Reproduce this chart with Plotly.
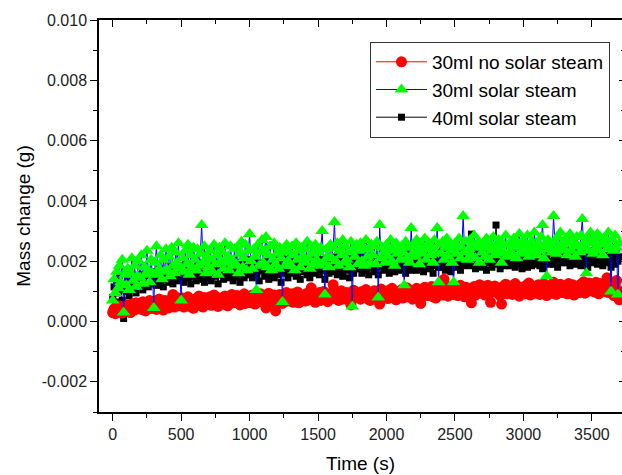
import plotly.graph_objects as go

# Sample times (s), one reading every 10 s from 0 to 3700 s
time_s = list(range(0, 3701, 10))

# Mass change, in milligrams (converted to grams below)
red_30ml_no_solar_mg = [
    0.30,0.42,0.26,0.48,0.35,0.52,0.38,0.28,0.45,0.40,
    0.36,0.55,0.41,0.30,0.58,0.47,0.38,0.62,0.44,0.52,
    0.58,0.40,0.66,0.47,0.35,0.60,0.52,0.70,0.43,0.55,
    0.48,0.68,0.40,0.62,0.75,0.50,0.58,0.38,0.70,0.55,
    0.65,0.45,0.72,0.55,0.90,0.48,0.66,0.80,0.52,0.60,
    0.55,0.78,0.48,0.68,0.60,0.82,0.50,0.72,0.64,0.44,
    0.75,0.52,0.70,0.85,0.58,0.66,0.48,0.80,0.62,0.72,
    0.60,0.82,0.54,0.74,0.88,0.62,0.70,0.50,0.78,0.66,
    0.76,0.58,0.85,0.66,0.52,0.80,0.72,0.90,0.62,0.70,
    0.64,0.86,0.72,0.55,0.82,0.68,0.92,0.60,0.76,0.70,
    0.80,0.62,0.88,0.70,0.58,0.84,0.74,0.66,0.92,0.68,
    0.70,0.86,0.45,0.78,0.94,0.64,0.82,0.72,0.88,0.35,
    0.82,0.66,0.90,0.74,0.60,0.86,0.78,0.96,0.68,0.80,
    0.72,0.92,0.64,0.84,0.76,0.98,0.62,0.80,0.88,0.70,
    0.86,0.68,0.94,0.76,0.82,1.12,0.72,0.90,0.64,0.84,
    0.78,0.96,0.70,0.86,1.00,0.74,0.88,0.66,0.92,0.80,
    0.90,1.22,0.76,0.84,0.98,0.70,0.88,1.02,0.74,0.86,
    0.80,0.96,0.72,0.90,0.55,0.86,1.04,0.78,0.94,0.84,
    0.92,0.74,1.00,0.82,0.88,1.06,0.76,0.94,0.70,0.90,
    0.84,1.02,0.78,0.96,0.90,0.58,1.08,0.82,0.98,0.86,
    0.94,0.76,1.04,0.86,1.10,0.80,0.92,0.72,1.00,0.88,
    0.84,1.06,0.78,0.96,0.88,1.12,0.82,1.00,0.92,0.74,
    1.02,0.86,1.10,0.80,0.96,0.60,1.06,0.90,1.14,0.88,
    0.86,1.04,0.92,1.16,0.82,0.98,0.78,1.10,0.94,1.00,
    1.06,0.88,1.40,0.96,1.12,0.84,1.02,0.92,1.18,0.90,
    0.92,1.10,0.86,1.04,1.20,0.94,1.00,0.82,1.14,0.98,
    1.08,0.90,0.62,1.02,1.16,0.88,1.12,0.96,1.22,0.94,
    0.96,1.14,0.88,1.06,1.20,0.92,0.64,1.10,1.02,1.18,
    1.12,0.94,1.08,0.86,0.58,1.16,0.98,1.24,0.92,1.06,
    0.98,1.18,0.90,1.10,1.26,0.96,1.04,0.84,1.14,1.00,
    1.08,0.92,1.20,0.98,1.28,0.88,1.12,1.02,0.94,1.16,
    1.00,1.22,0.90,1.10,0.96,1.26,1.04,0.86,1.18,1.08,
    1.14,0.94,1.30,1.04,0.90,1.20,1.00,1.24,0.96,1.10,
    1.02,1.18,0.92,1.26,1.08,0.98,1.22,0.88,1.14,1.06,
    1.16,0.96,1.24,1.04,1.32,0.94,1.12,1.00,1.28,1.08,
    1.02,1.20,0.98,1.30,1.10,0.92,1.26,1.06,1.16,1.00,
    1.14,1.45,0.96,1.24,1.06,1.30,0.86,1.18,1.36,1.04,
    0.72,
]

green_30ml_solar_mg = [
    0.70,1.40,0.95,1.65,1.10,1.85,1.30,2.05,0.30,1.55,
    1.20,1.75,1.05,1.60,2.10,1.35,1.85,1.15,1.50,2.00,
    1.45,2.20,1.25,1.80,1.55,2.35,1.70,1.30,2.05,1.60,
    0.45,1.95,2.50,1.55,1.75,2.20,1.40,2.05,1.65,2.40,
    1.70,2.15,1.50,2.45,1.85,1.60,2.30,1.95,2.60,1.75,
    0.70,2.10,1.65,2.35,1.90,2.55,1.55,2.20,1.80,2.45,
    2.05,1.70,2.40,1.85,2.25,3.20,1.95,2.50,1.60,2.15,
    1.80,2.35,2.05,1.65,2.55,1.90,2.20,1.55,2.45,2.00,
    2.30,1.75,2.60,1.95,2.15,1.70,2.50,2.05,1.85,2.40,
    1.90,2.45,1.60,2.25,2.65,1.80,2.10,2.55,1.70,2.35,
    2.90,2.00,1.75,2.40,2.15,1.05,2.55,1.85,2.30,2.70,
    1.95,2.35,2.80,1.80,2.20,2.50,1.70,2.05,2.60,1.90,
    2.25,1.75,2.45,2.10,0.65,2.35,1.85,2.55,2.00,2.30,
    1.85,2.50,2.20,1.70,2.60,2.05,2.35,1.80,2.45,2.15,
    2.40,1.95,2.65,2.10,1.75,2.50,2.25,1.90,2.55,2.05,
    2.30,1.85,2.45,3.00,1.95,0.90,2.40,2.15,1.80,2.55,
    2.10,2.45,3.30,2.00,2.60,1.85,2.35,2.20,2.70,1.95,
    2.50,2.05,2.30,1.80,2.65,0.50,2.40,2.15,2.55,1.90,
    2.35,2.60,2.00,2.45,1.85,2.70,2.15,2.40,1.95,2.55,
    2.20,2.50,1.90,2.65,0.80,3.20,2.10,2.45,2.30,1.95,
    2.55,2.15,2.40,2.70,2.00,2.35,1.85,2.60,2.25,2.45,
    2.05,2.50,2.30,1.20,2.65,2.10,2.45,1.95,3.10,2.25,
    2.50,2.15,2.70,2.35,1.90,2.60,2.25,2.45,2.75,2.05,
    2.40,2.60,2.20,2.50,1.95,2.70,2.30,3.10,1.30,2.55,
    2.25,2.65,2.05,2.45,2.75,2.15,2.55,2.35,1.95,1.30,
    2.60,2.25,2.50,2.75,2.10,2.45,3.50,2.30,2.65,2.05,
    2.40,2.70,2.20,2.55,2.85,2.10,2.45,2.65,1.95,2.50,
    2.30,2.60,2.15,2.75,2.45,2.05,2.55,2.35,2.80,2.20,
    2.50,2.25,2.70,2.40,1.95,2.60,2.30,2.85,2.15,2.55,
    2.35,2.65,2.20,2.75,2.45,2.10,2.60,2.90,2.30,2.50,
    2.70,2.25,2.55,2.85,2.15,2.40,2.65,2.30,2.95,2.45,
    2.20,2.60,2.35,2.80,3.20,2.10,2.50,1.50,2.70,2.40,
    2.55,2.30,3.50,2.65,2.25,2.80,2.45,2.95,2.35,2.60,
    2.40,2.75,2.20,2.60,2.90,2.35,2.70,2.50,2.15,2.80,
    2.50,2.30,2.85,3.40,2.45,2.65,1.60,2.75,2.35,2.95,
    2.60,2.25,2.70,2.45,2.90,2.35,2.80,2.55,2.20,2.65,
    2.75,2.40,2.95,2.50,1.00,2.70,2.35,2.85,2.45,0.90,
    2.60,
]

black_40ml_solar_mg = [
    0.80,1.15,0.65,1.30,0.95,1.45,1.05,0.70,0.10,1.20,
    1.00,1.40,0.85,1.30,1.55,1.10,1.35,0.95,1.25,1.50,
    1.20,1.55,1.05,1.45,1.30,1.70,1.15,1.40,1.60,1.25,
    1.35,1.65,1.20,1.55,1.75,1.30,1.50,1.15,1.60,1.40,
    1.65,1.30,1.55,1.80,1.25,1.45,1.70,1.35,1.60,1.85,
    1.40,1.75,1.30,1.60,1.90,1.45,1.65,1.25,1.80,1.50,
    1.70,1.35,1.85,1.55,1.40,1.95,1.60,1.30,1.75,1.50,
    1.45,1.80,1.35,1.65,1.95,1.50,1.70,1.25,1.85,1.55,
    1.75,1.40,1.90,1.55,1.70,2.00,1.45,1.80,1.35,1.65,
    1.50,1.85,1.60,1.30,1.95,1.70,1.45,1.80,1.55,2.05,
    1.60,1.90,1.45,1.75,2.05,1.55,1.85,1.35,1.70,1.95,
    1.80,1.50,2.00,1.65,1.40,1.90,1.60,1.85,1.45,2.10,
    1.55,1.85,1.70,1.30,1.95,1.60,2.05,1.75,1.45,1.80,
    1.90,1.60,1.80,2.10,1.50,1.75,1.95,1.40,1.85,1.65,
    1.70,2.00,1.55,1.85,1.45,2.15,1.65,1.90,1.60,1.80,
    1.85,1.55,2.05,1.70,1.95,1.40,1.80,2.10,1.60,1.75,
    1.65,1.95,1.75,2.15,1.55,1.90,1.70,2.05,1.50,1.85,
    2.00,1.70,1.85,1.45,2.10,1.80,1.60,1.95,1.75,2.20,
    1.75,2.05,1.60,1.90,2.20,1.70,1.85,1.55,2.00,1.80,
    1.95,1.65,2.10,1.80,1.55,2.00,1.85,2.25,1.70,1.90,
    1.75,2.05,1.60,1.95,2.20,1.80,1.65,2.10,1.85,1.70,
    2.00,1.75,2.15,1.90,1.60,2.05,1.80,2.25,1.70,1.95,
    1.85,2.10,1.70,2.00,2.30,1.80,1.95,1.65,2.15,1.90,
    2.05,1.75,2.20,1.90,1.60,2.10,1.85,2.30,1.80,2.00,
    1.80,2.15,1.95,1.70,2.25,1.85,2.05,1.65,2.20,1.90,
    2.10,1.80,2.25,1.95,1.70,2.15,1.90,2.35,1.85,2.05,
    1.90,2.20,2.90,1.85,2.05,1.75,2.30,1.95,2.15,1.80,
    2.05,1.85,2.25,1.70,2.10,1.95,2.35,1.80,2.00,2.20,
    3.20,1.90,2.15,1.75,2.05,2.30,1.85,2.10,1.95,2.25,
    1.85,2.15,1.95,2.35,1.80,2.05,2.25,1.90,2.10,1.75,
    2.20,1.95,2.10,1.80,2.30,2.00,1.85,2.25,2.05,1.90,
    2.10,2.35,1.85,2.05,1.75,2.25,1.95,2.15,2.40,1.90,
    2.00,2.25,1.90,2.40,2.10,1.80,2.30,2.05,1.95,2.20,
    2.15,1.95,2.35,2.05,1.85,2.25,2.10,2.45,1.90,2.00,
    2.30,2.05,1.85,2.20,2.40,1.95,2.15,1.80,2.35,2.10,
    1.95,2.25,2.10,2.45,1.90,2.20,2.00,2.35,1.85,2.15,
    2.20,1.95,2.40,2.05,1.80,2.30,2.10,1.90,2.45,2.00,
    2.15,
]

# unit conversion mg -> g
red_30ml_no_solar = [v / 1000 for v in red_30ml_no_solar_mg]
green_30ml_solar = [v / 1000 for v in green_30ml_solar_mg]
black_40ml_solar = [v / 1000 for v in black_40ml_solar_mg]

y_ticks = [-0.002, 0.000, 0.002, 0.004, 0.006, 0.008, 0.010]
y_ticklabels = ["-0.002", "0.000", "0.002", "0.004", "0.006", "0.008", "0.010"]
x_ticks = [0, 500, 1000, 1500, 2000, 2500, 3000, 3500]

FONT = "Arial, 'Liberation Sans', sans-serif"
X_RANGE = [-100, 3720]
Y_RANGE = [-0.003, 0.010]

fig = go.Figure()

fig.add_trace(go.Scatter(
    x=time_s, y=black_40ml_solar, mode="lines+markers", name="40ml solar steam",
    line=dict(color="black", width=1),
    marker=dict(symbol="square", size=7, color="black"),
    legendrank=3,
))
fig.add_trace(go.Scatter(
    x=time_s, y=red_30ml_no_solar, mode="lines+markers", name="30ml no solar steam",
    line=dict(color="red", width=1),
    marker=dict(symbol="circle", size=11, color="red"),
    legendrank=1,
))
fig.add_trace(go.Scatter(
    x=time_s, y=green_30ml_solar, mode="lines+markers", name="30ml solar steam",
    line=dict(color="blue", width=1),
    marker=dict(symbol="triangle-up", size=12, color="#00ff00"),
    legendrank=2,
))
# empty trace hosting the mirrored (top/right) axes
fig.add_trace(go.Scatter(x=[], y=[], xaxis="x2", yaxis="y2", showlegend=False, hoverinfo="skip"))

common = dict(showgrid=False, zeroline=False, linecolor="black", linewidth=1.5)

fig.update_layout(
    width=622, height=475,
    margin=dict(l=99, r=0, t=20, b=63),
    paper_bgcolor="white", plot_bgcolor="white",
    font=dict(family=FONT, size=16, color="black"),
    xaxis=dict(
        range=X_RANGE, tickvals=x_ticks, ticks="outside", ticklen=7, tickwidth=1.2,
        tickcolor="black", tickfont=dict(size=16, color="#222"), showline=True,
        minor=dict(ticks="outside", ticklen=4, dtick=250, tick0=0, tickcolor="black", tickwidth=1.2),
        title=dict(text="Time (s)", font=dict(size=19), standoff=15),
        **common,
    ),
    yaxis=dict(
        range=Y_RANGE, tickvals=y_ticks, ticktext=y_ticklabels, ticks="outside", ticklen=7,
        tickwidth=1.2, tickcolor="black", tickfont=dict(size=16, color="#222"), showline=True,
        minor=dict(ticks="outside", ticklen=4, dtick=0.001, tick0=0, tickcolor="black", tickwidth=1.2),
        title=dict(text="Mass change (g)", font=dict(size=19), standoff=6),
        **common,
    ),
    xaxis2=dict(
        range=X_RANGE, overlaying="x", side="top", tickvals=x_ticks, ticks="inside",
        ticklen=7, tickwidth=1.2, tickcolor="black", showticklabels=False, showline=True,
        minor=dict(ticks="inside", ticklen=4, dtick=250, tick0=0, tickcolor="black", tickwidth=1.2),
        **common,
    ),
    yaxis2=dict(
        range=Y_RANGE, overlaying="y", side="right", tickvals=y_ticks, ticks="inside",
        ticklen=3, tickwidth=1.2, tickcolor="black", showticklabels=False, showline=False,
        minor=dict(ticks="inside", ticklen=1, dtick=0.001, tick0=0, tickcolor="black", tickwidth=1.2),
        **common,
    ),
    legend=dict(
        x=0.977, y=0.944, xanchor="right", yanchor="top",
        bgcolor="white", bordercolor="#333", borderwidth=1,
        font=dict(size=19, family=FONT), itemwidth=51, tracegroupgap=0,
    ),
    showlegend=True,
)

fig.write_html("out.html")
